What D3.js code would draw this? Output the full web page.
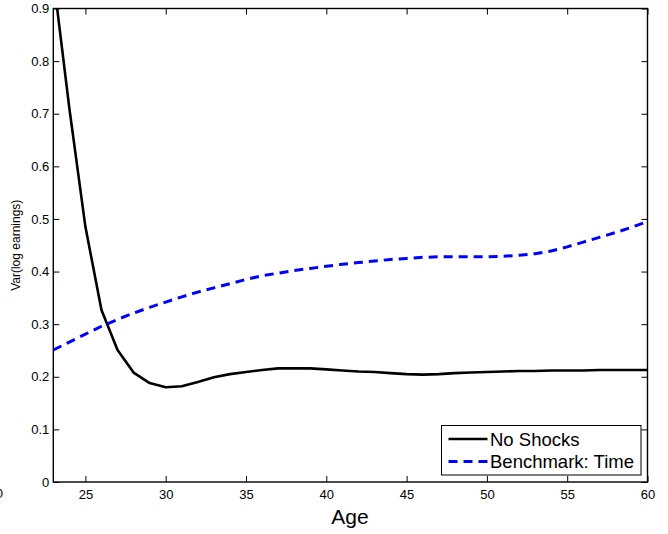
<!DOCTYPE html>
<html>
<head>
<meta charset="utf-8">
<script src="https://cdn.jsdelivr.net/npm/d3@7"></script>
<style>
  html, body { margin: 0; padding: 0; background: #fff; }
  svg { display: block; font-family: "Liberation Sans", Arial, Helvetica, sans-serif; }
</style>
</head>
<body>
<svg id="chart" width="668" height="534"></svg>
<script>
// Age profile of the variance of log earnings
const ages = d3.range(23, 61);
const noShocks = [0.96, 0.71, 0.485, 0.327, 0.251, 0.208, 0.188, 0.180, 0.182, 0.190,
  0.199, 0.205, 0.209, 0.213, 0.216, 0.216, 0.216, 0.214, 0.212, 0.210,
  0.209, 0.207, 0.205, 0.204, 0.205, 0.207, 0.208, 0.209, 0.210, 0.211,
  0.211, 0.212, 0.212, 0.212, 0.213, 0.213, 0.213, 0.213];
const benchmarkTime = [0.251, 0.266, 0.281, 0.296, 0.309, 0.321, 0.332, 0.342, 0.352, 0.361,
  0.369, 0.377, 0.385, 0.392, 0.397, 0.402, 0.406, 0.410, 0.414, 0.417,
  0.420, 0.423, 0.425, 0.427, 0.428, 0.428, 0.428, 0.428, 0.429, 0.431,
  0.434, 0.439, 0.447, 0.456, 0.465, 0.474, 0.484, 0.495];
const xTicks = [25, 30, 35, 40, 45, 50, 55, 60];
const yTicks = [0, 0.1, 0.2, 0.3, 0.4, 0.5, 0.6, 0.7, 0.8, 0.9];
const seriesNames = ["No Shocks", "Benchmark: Time"];

const svg = d3.select("#chart");
const m = { left: 53.3, right: 647.5, top: 8.5, bottom: 482 };

const x = d3.scaleLinear().domain([23, 60]).range([m.left, m.right]);
const y = d3.scaleLinear().domain([0, 0.9]).range([m.bottom, m.top]);

svg.append("rect").attr("width", 668).attr("height", 534).attr("fill", "#fff");

svg.append("clipPath").attr("id", "plot-clip")
  .append("rect")
  .attr("x", m.left).attr("y", m.top)
  .attr("width", m.right - m.left).attr("height", m.bottom - m.top);

const tickLen = 6;
const fmtY = d => d === 0 ? "0" : d3.format(".1f")(d);

// bottom axis with labels, ticks pointing inward
const gx = svg.append("g").attr("transform", `translate(0,${m.bottom})`)
  .call(d3.axisBottom(x).tickValues(xTicks).tickSizeInner(-tickLen).tickSizeOuter(0).tickPadding(10).tickFormat(d3.format("d")));
// top axis mirror
const gxt = svg.append("g").attr("transform", `translate(0,${m.top})`)
  .call(d3.axisTop(x).tickValues(xTicks).tickSizeInner(-tickLen).tickSizeOuter(0).tickFormat(""));
// left axis
const gy = svg.append("g").attr("transform", `translate(${m.left},0)`)
  .call(d3.axisLeft(y).tickValues(yTicks).tickSizeInner(-tickLen).tickSizeOuter(0).tickPadding(4).tickFormat(fmtY));
// right axis mirror
const gyr = svg.append("g").attr("transform", `translate(${m.right},0)`)
  .call(d3.axisRight(y).tickValues(yTicks).tickSizeInner(-tickLen).tickSizeOuter(0).tickFormat(""));

[gx, gxt, gy, gyr].forEach(g => {
  g.select(".domain").remove();
  g.selectAll(".tick line").attr("stroke", "#000").attr("stroke-width", 1);
  g.selectAll(".tick text").attr("fill", "#000").attr("font-size", 13)
    .attr("font-family", "'Liberation Sans', Arial, sans-serif");
});
gx.selectAll(".tick text").attr("dy", "0.71em").attr("y", 7.5);

// leftover tick label beyond the left edge of the axes
svg.append("text").attr("x", 3).attr("y", 498).attr("text-anchor", "end")
  .attr("font-size", 13).attr("fill", "#000").text("20");

// axes box
svg.append("rect")
  .attr("x", m.left).attr("y", m.top)
  .attr("width", m.right - m.left).attr("height", m.bottom - m.top)
  .attr("fill", "none").attr("stroke", "#000").attr("stroke-width", 1.4);

const line = d3.line().x((d, i) => x(ages[i])).y(d => y(d));
const plot = svg.append("g").attr("clip-path", "url(#plot-clip)");

plot.append("path").datum(noShocks)
  .attr("d", line)
  .attr("fill", "none").attr("stroke", "#000").attr("stroke-width", 2.6)
  .attr("stroke-linejoin", "round");

plot.append("path").datum(benchmarkTime)
  .attr("d", line)
  .attr("fill", "none").attr("stroke", "#0000ff").attr("stroke-width", 3)
  .attr("stroke-dasharray", "9,6");

// axis titles
svg.append("text").attr("x", 350).attr("y", 524).attr("text-anchor", "middle")
  .attr("font-size", 21).attr("fill", "#000").text("Age");
svg.append("text")
  .attr("transform", `translate(20,${(m.top + m.bottom) / 2}) rotate(-90)`)
  .attr("text-anchor", "middle").attr("font-size", 12).attr("fill", "#000")
  .text("Var(log earnings)");

// legend
const lg = svg.append("g");
lg.append("rect").attr("x", 441.5).attr("y", 425.5).attr("width", 199.5).attr("height", 49.5)
  .attr("fill", "#fff").attr("stroke", "#000").attr("stroke-width", 1);
const styles = [
  { stroke: "#000", width: 2.6, dash: null },
  { stroke: "#0000ff", width: 3, dash: "9,6" }
];
seriesNames.forEach((name, i) => {
  const ly = 439 + i * 22.5;
  lg.append("line").attr("x1", 448.5).attr("x2", 487.5).attr("y1", ly).attr("y2", ly)
    .attr("stroke", styles[i].stroke).attr("stroke-width", styles[i].width)
    .attr("stroke-dasharray", styles[i].dash);
  lg.append("text").attr("x", 490).attr("y", ly).attr("dy", "0.36em")
    .attr("font-size", 18.5).attr("fill", "#000").text(name);
});
</script>
</body>
</html>
